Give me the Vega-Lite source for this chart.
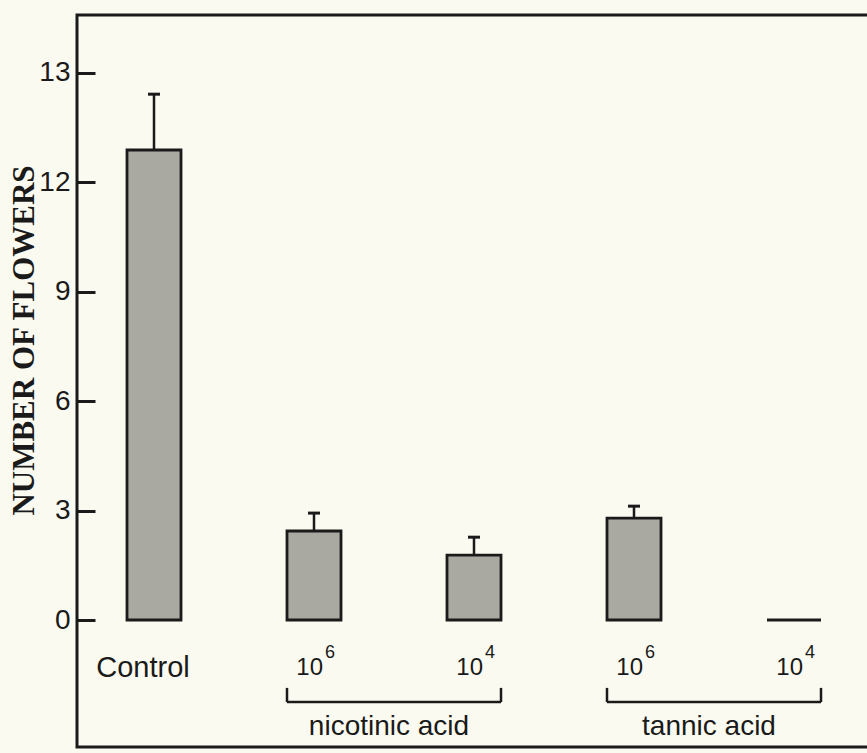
{
  "$schema": "https://vega.github.io/schema/vega-lite/v6.json",
  "width": 794,
  "height": 732,
  "autosize": {"type": "none"},
  "padding": {"left": 77, "top": 15, "right": 0, "bottom": 6},
  "background": "#fbfaf0",
  "config": {
    "view": {"stroke": "#1a1a1a", "strokeWidth": 3},
    "axis": {"grid": false}
  },
  "datasets": {
    "bars": [
      {"cat": "Control", "label": "Control", "value": 12.88, "upper": 14.41},
      {"cat": "N6", "base": "10", "exp": "6", "value": 2.44, "upper": 2.93},
      {"cat": "N4", "base": "10", "exp": "4", "value": 1.78, "upper": 2.27},
      {"cat": "T6", "base": "10", "exp": "6", "value": 2.79, "upper": 3.12},
      {"cat": "T4", "base": "10", "exp": "4", "value": 0, "upper": null}
    ],
    "groups": [
      {"group": "nicotinic acid", "from": "N6", "to": "N4"},
      {"group": "tannic acid", "from": "T6", "to": "T4"}
    ]
  },
  "layer": [
    {
      "data": {"name": "bars"},
      "mark": {"type": "bar", "fill": "#aaa9a1", "stroke": "#1a1a1a", "strokeWidth": 2.8},
      "encoding": {
        "x": {"field": "cat", "type": "nominal", "axis": null,
              "scale": {"domain": ["Control", "N6", "N4", "T6", "T4"], "paddingInner": 0.6625, "paddingOuter": 0.3125}},
        "y": {"field": "value", "type": "quantitative",
              "scale": {"domain": [-3.48, 16.58], "nice": false, "zero": false},
              "axis": {
                "title": "NUMBER OF FLOWERS",
                "values": [0, 3, 6, 9, 12, 15],
                "labelExpr": "datum.value == 15 ? '13' : datum.label",
                "tickSize": -18, "tickWidth": 3, "tickColor": "#1a1a1a",
                "domain": false,
                "labelFont": "Liberation Sans", "labelFontSize": 28, "labelColor": "#1a1a1a", "labelPadding": 25,
                "titleFont": "Liberation Serif", "titleFontSize": 31, "titleFontWeight": "bold", "titleColor": "#1a1a1a",
                "titleX": -53, "titleY": 325, "titleAngle": -90, "titleBaseline": "middle", "titleAlign": "center"
              }},
        "y2": {"datum": 0}
      }
    },
    {
      "data": {"name": "bars"},
      "transform": [{"filter": "datum.upper != null"}],
      "mark": {"type": "rule", "color": "#1a1a1a", "strokeWidth": 2.5},
      "encoding": {
        "x": {"field": "cat", "type": "nominal"},
        "y": {"field": "value", "type": "quantitative"},
        "y2": {"field": "upper"}
      }
    },
    {
      "data": {"name": "bars"},
      "transform": [{"filter": "datum.upper != null"}],
      "mark": {"type": "tick", "orient": "horizontal", "size": 12, "thickness": 3, "color": "#1a1a1a", "opacity": 1},
      "encoding": {
        "x": {"field": "cat", "type": "nominal"},
        "y": {"field": "upper", "type": "quantitative"}
      }
    },
    {
      "data": {"name": "bars"},
      "transform": [{"filter": "datum.label != null"}],
      "mark": {"type": "text", "font": "Liberation Sans", "fontSize": 29, "color": "#1a1a1a", "dx": -11, "baseline": "alphabetic", "align": "center"},
      "encoding": {
        "x": {"field": "cat", "type": "nominal"},
        "y": {"datum": -1.56},
        "text": {"field": "label"}
      }
    },
    {
      "data": {"name": "bars"},
      "transform": [{"filter": "datum.base != null"}],
      "mark": {"type": "text", "font": "Liberation Sans", "fontSize": 24, "color": "#1a1a1a", "dx": 9, "baseline": "alphabetic", "align": "right"},
      "encoding": {
        "x": {"field": "cat", "type": "nominal"},
        "y": {"datum": -1.51},
        "text": {"field": "base"}
      }
    },
    {
      "data": {"name": "bars"},
      "transform": [{"filter": "datum.exp != null"}],
      "mark": {"type": "text", "font": "Liberation Sans", "fontSize": 18, "color": "#1a1a1a", "dx": 11, "baseline": "alphabetic", "align": "left"},
      "encoding": {
        "x": {"field": "cat", "type": "nominal"},
        "y": {"datum": -1.04},
        "text": {"field": "exp"}
      }
    },
    {
      "data": {"name": "groups"},
      "mark": {"type": "rule", "color": "#1a1a1a", "strokeWidth": 2.5},
      "encoding": {
        "x": {"field": "from", "type": "nominal", "bandPosition": 0},
        "x2": {"field": "to", "bandPosition": 1},
        "y": {"datum": -2.25}
      }
    },
    {
      "data": {"name": "groups"},
      "mark": {"type": "rule", "color": "#1a1a1a", "strokeWidth": 2.5},
      "encoding": {
        "x": {"field": "from", "type": "nominal", "bandPosition": 0},
        "y": {"datum": -1.86},
        "y2": {"datum": -2.25}
      }
    },
    {
      "data": {"name": "groups"},
      "mark": {"type": "rule", "color": "#1a1a1a", "strokeWidth": 2.5},
      "encoding": {
        "x": {"field": "to", "type": "nominal", "bandPosition": 1},
        "y": {"datum": -1.86},
        "y2": {"datum": -2.25}
      }
    },
    {
      "data": {"name": "groups"},
      "mark": {"type": "text", "font": "Liberation Sans", "fontSize": 28, "color": "#1a1a1a", "dx": 48, "baseline": "alphabetic", "align": "center"},
      "encoding": {
        "x": {"field": "from", "type": "nominal", "bandPosition": 1},
        "y": {"datum": -3.15},
        "text": {"field": "group"}
      }
    }
  ]
}
